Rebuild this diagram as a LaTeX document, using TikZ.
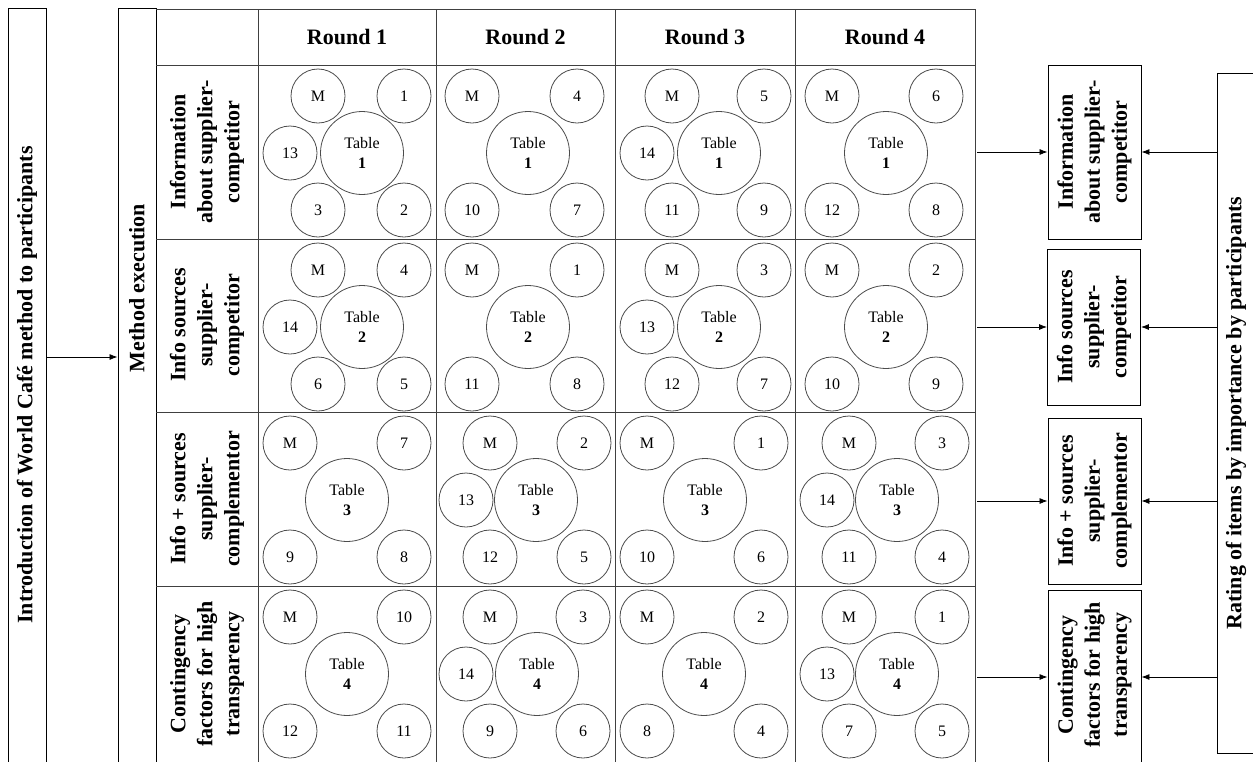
\documentclass[tikz,border=0pt]{standalone}
\usepackage{fontspec}
\setmainfont{Liberation Serif}
\usetikzlibrary{arrows.meta}
\begin{document}
\begin{tikzpicture}[x=1pt,y=-1pt,
  seat/.style={circle,draw=black!70,line width=0.8pt,minimum size=54pt,inner sep=0pt,font=\fontsize{16}{20}\selectfont},
  tbl/.style={circle,draw=black!70,line width=0.8pt,minimum size=83pt,inner sep=0pt,align=center,font=\fontsize{16}{20}\selectfont},
  gridline/.style={draw=black!75,line width=0.9pt},
  box/.style={draw=black,line width=0.9pt,inner sep=0pt},
  lbl/.style={rotate=90,align=center,font=\fontsize{22}{27}\selectfont\bfseries},
  hdr/.style={font=\fontsize{22}{27}\selectfont\bfseries},
  arr/.style={-{Latex[length=8pt,width=6pt]},line width=0.8pt}
]
\path[use as bounding box] (0,0) rectangle (1253,761);
\clip (0,0) rectangle (1253,761);
\fill[white] (0,0) rectangle (1253,761);

% left boxes
\node[box,minimum width=38,minimum height=762] (intro) at (27,389) {};
\node[lbl] (introt) at (27,385) {Introduction of World Café method to participants};
\node[box,minimum width=38,minimum height=762] (method) at (137,389) {};
\node[lbl] (methodt) at (137,288) {Method execution};
\draw[arr] (intro.east |- 0,357) -- (method.west |- 0,357);

% table grid
\draw[gridline] (156,9) -- (975,9);
\foreach \yy in {65,239,412,586} { \draw[gridline] (156,\yy) -- (975,\yy); }
\foreach \xx in {258,436,615,795,975} { \draw[gridline] (\xx,9) -- (\xx,770); }

% headers
\node[hdr] (h1) at (347,37) {Round 1};
\node[hdr] (h2) at (525.5,37) {Round 2};
\node[hdr] (h3) at (705,37) {Round 3};
\node[hdr] (h4) at (885,37) {Round 4};

% row labels
\node[lbl] (r1) at (207,152) {Information\\about supplier-\\competitor};
\node[lbl] (r2) at (207,325) {Info sources\\supplier-\\competitor};
\node[lbl] (r3) at (207,499) {Info + sources\\supplier-\\complementor};
\node[lbl] (r4) at (207,674) {Contingency\\factors for high\\transparency};

% seats
\foreach \nm/\cx/\ry/\mx/\rx/\tx/\tn/\a/\b/\c in {
11/258/65/60/146/104/1/1/3/2,
12/436/65/36/141/92/1/4/10/7,
13/615/65/57/149/104/1/5/11/9,
14/795/65/37/141/91/1/6/12/8,
21/258/239/60/146/104/2/4/6/5,
22/436/239/36/141/92/2/1/11/8,
23/615/239/57/149/104/2/3/12/7,
24/795/239/37/141/91/2/2/10/9,
31/258/412/32/146/89/3/7/9/8,
32/436/412/54/148/100/3/2/12/5,
33/615/412/32/146/90/3/1/10/6,
34/795/412/54/147/102/3/3/11/4,
41/258/586/32/146/89/4/10/12/11,
42/436/586/54/147/101/4/3/9/6,
43/615/586/32/146/89/4/2/8/4,
44/795/586/54/147/102/4/1/7/5}
{
 \node[seat] (m\nm) at (\cx+\mx,\ry+31) {M};
 \node[seat] (tr\nm) at (\cx+\rx,\ry+31) {\a};
 \node[tbl] (t\nm) at (\cx+\tx,\ry+88) {Table\\\textbf{\tn}};
 \node[seat] (bl\nm) at (\cx+\mx,\ry+145) {\b};
 \node[seat] (br\nm) at (\cx+\rx,\ry+145) {\c};
}
\foreach \nm/\cx/\ry/\lx/\l in {11/258/65/32/13, 13/615/65/32/14, 21/258/239/32/14, 23/615/239/32/13, 32/436/412/30/13, 34/795/412/32/14, 42/436/586/30/14, 44/795/586/32/13}
{ \node[seat] (l\nm) at (\cx+\lx,\ry+88) {\l}; }

% right boxes
\node[box,minimum width=93,minimum height=174] (b1) at (1094.5,152) {};
\node[lbl] (b1t) at (1094.5,152) {Information\\about supplier-\\competitor};
\node[box,minimum width=93,minimum height=156] (b2) at (1094,327) {};
\node[lbl] (b2t) at (1094,327) {Info sources\\supplier-\\competitor};
\node[box,minimum width=93,minimum height=166] (b3) at (1094.5,501) {};
\node[lbl] (b3t) at (1094.5,501) {Info + sources\\supplier-\\complementor};
\node[box,minimum width=93,minimum height=180] (b4) at (1094.5,680) {};
\node[lbl] (b4t) at (1094.5,675) {Contingency\\factors for high\\transparency};

% rating box
\node[box,minimum width=48,minimum height=680] (rate) at (1241,413) {};
\node[lbl] (ratet) at (1236,413) {Rating of items by importance by participants};

% arrows
\foreach \i/\yy in {1/152,2/327,3/501,4/677}
{
 \coordinate (e\i) at (977,\yy);
 \draw[arr] (e\i) -- (e\i -| b\i.west);
 \draw[arr] (rate.west |- e\i) -- (b\i.east |- e\i);
}
\end{tikzpicture}
\end{document}
